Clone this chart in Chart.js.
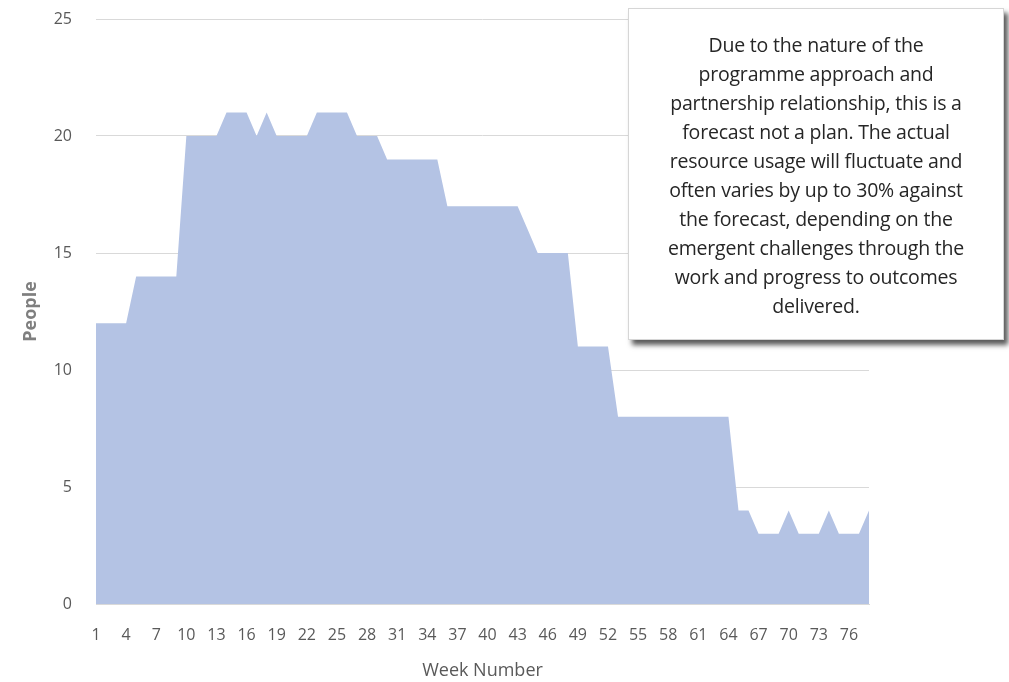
<!DOCTYPE html>
<html lang="en">
<head>
    <meta charset="UTF-8">
    <title>People by Week Number</title>
    <script src="https://cdn.jsdelivr.net/npm/chart.js"></script>
    <style>
        body {
            margin: 0;
            background: #ffffff;
            font-family: "Open Sans", "Noto Sans", sans-serif;
        }
        .wrap {
            position: relative;
            width: 1009px;
            height: 682px;
        }
        .note {
            position: absolute;
            left: 628px;
            top: 8px;
            width: 376px;
            height: 332px;
            box-sizing: border-box;
            padding-top: 21px;
            background: #ffffff;
            border: 1px solid #d6d6d6;
            box-shadow: 4px 5px 5px rgba(0, 0, 0, 0.65);
            text-align: center;
            color: #262626;
            font-size: 19.5px;
            line-height: 29px;
            letter-spacing: -0.2px;
        }
    </style>
</head>
<body>
<div class="wrap">
    <canvas id="forecastChart" width="1009" height="682"></canvas>
    <div class="note">
        Due to the nature of the<br>
        programme approach and<br>
        partnership relationship, this is a<br>
        forecast not a plan. The actual<br>
        resource usage will fluctuate and<br>
        often varies by up to 30% against<br>
        the forecast, depending on the<br>
        emergent challenges through the<br>
        work and progress to outcomes<br>
        delivered.
    </div>
</div>

<script>
    // weeks 1..78
    const weeks = [];
    for (let w = 1; w <= 78; w++) weeks.push(String(w));

    const people = [
        12, 12, 12, 12,
        14, 14, 14, 14, 14,
        20, 20, 20, 20,
        21, 21, 21,
        20, 21,
        20, 20, 20, 20,
        21, 21, 21, 21,
        20, 20, 20,
        19, 19, 19, 19, 19, 19,
        17, 17, 17, 17, 17, 17, 17, 17,
        16,
        15, 15, 15, 15,
        11, 11, 11, 11,
        8, 8, 8, 8, 8, 8, 8, 8, 8, 8, 8, 8,
        4, 4,
        3, 3, 3,
        4,
        3, 3, 3,
        4,
        3, 3, 3,
        4
    ];

    const yTicks = [0, 5, 10, 15, 20, 25];

    const ctx = document.getElementById('forecastChart').getContext('2d');
    new Chart(ctx, {
        type: 'line',
        data: {
            labels: weeks,
            datasets: [{
                label: 'People',
                data: people,
                fill: 'origin',
                backgroundColor: '#b4c3e4',
                borderWidth: 0,
                pointRadius: 0,
                tension: 0
            }]
        },
        options: {
            responsive: false,
            animation: false,
            layout: {
                padding: { left: 0, right: 140, top: 19, bottom: 0 }
            },
            plugins: {
                legend: { display: false },
                tooltip: { enabled: false }
            },
            scales: {
                x: {
                    offset: false,
                    grid: { display: false },
                    border: { display: true, color: '#d9d9d9' },
                    ticks: {
                        autoSkip: false,
                        maxRotation: 0,
                        minRotation: 0,
                        padding: 14,
                        color: '#595959',
                        font: { family: 'Open Sans', size: 16 },
                        callback: function (val, i) {
                            return i % 3 === 0 ? weeks[i] : '';
                        }
                    },
                    title: {
                        display: true,
                        text: 'Week Number',
                        color: '#595959',
                        font: { family: 'Open Sans', size: 18 },
                        padding: { top: 4, bottom: 0 }
                    },
                    afterFit: function (scale) { scale.height = 78; }
                },
                y: {
                    min: 0,
                    max: 25,
                    afterBuildTicks: function (scale) {
                        scale.ticks = yTicks.map(v => ({ value: v }));
                    },
                    grid: { color: '#d9d9d9', drawTicks: false },
                    border: { display: false },
                    ticks: {
                        padding: 24,
                        color: '#595959',
                        font: { family: 'Open Sans', size: 16 }
                    },
                    title: {
                        display: true,
                        text: 'People',
                        color: '#7f7f7f',
                        font: { family: 'Open Sans', size: 18, weight: 'bold' },
                        padding: { top: 20, bottom: 0 }
                    },
                    afterFit: function (scale) {
                        scale.width = 96;
                        scale.paddingTop = 0;
                        scale.paddingBottom = 0;
                    }
                }
            }
        }
    });
</script>
</body>
</html>
